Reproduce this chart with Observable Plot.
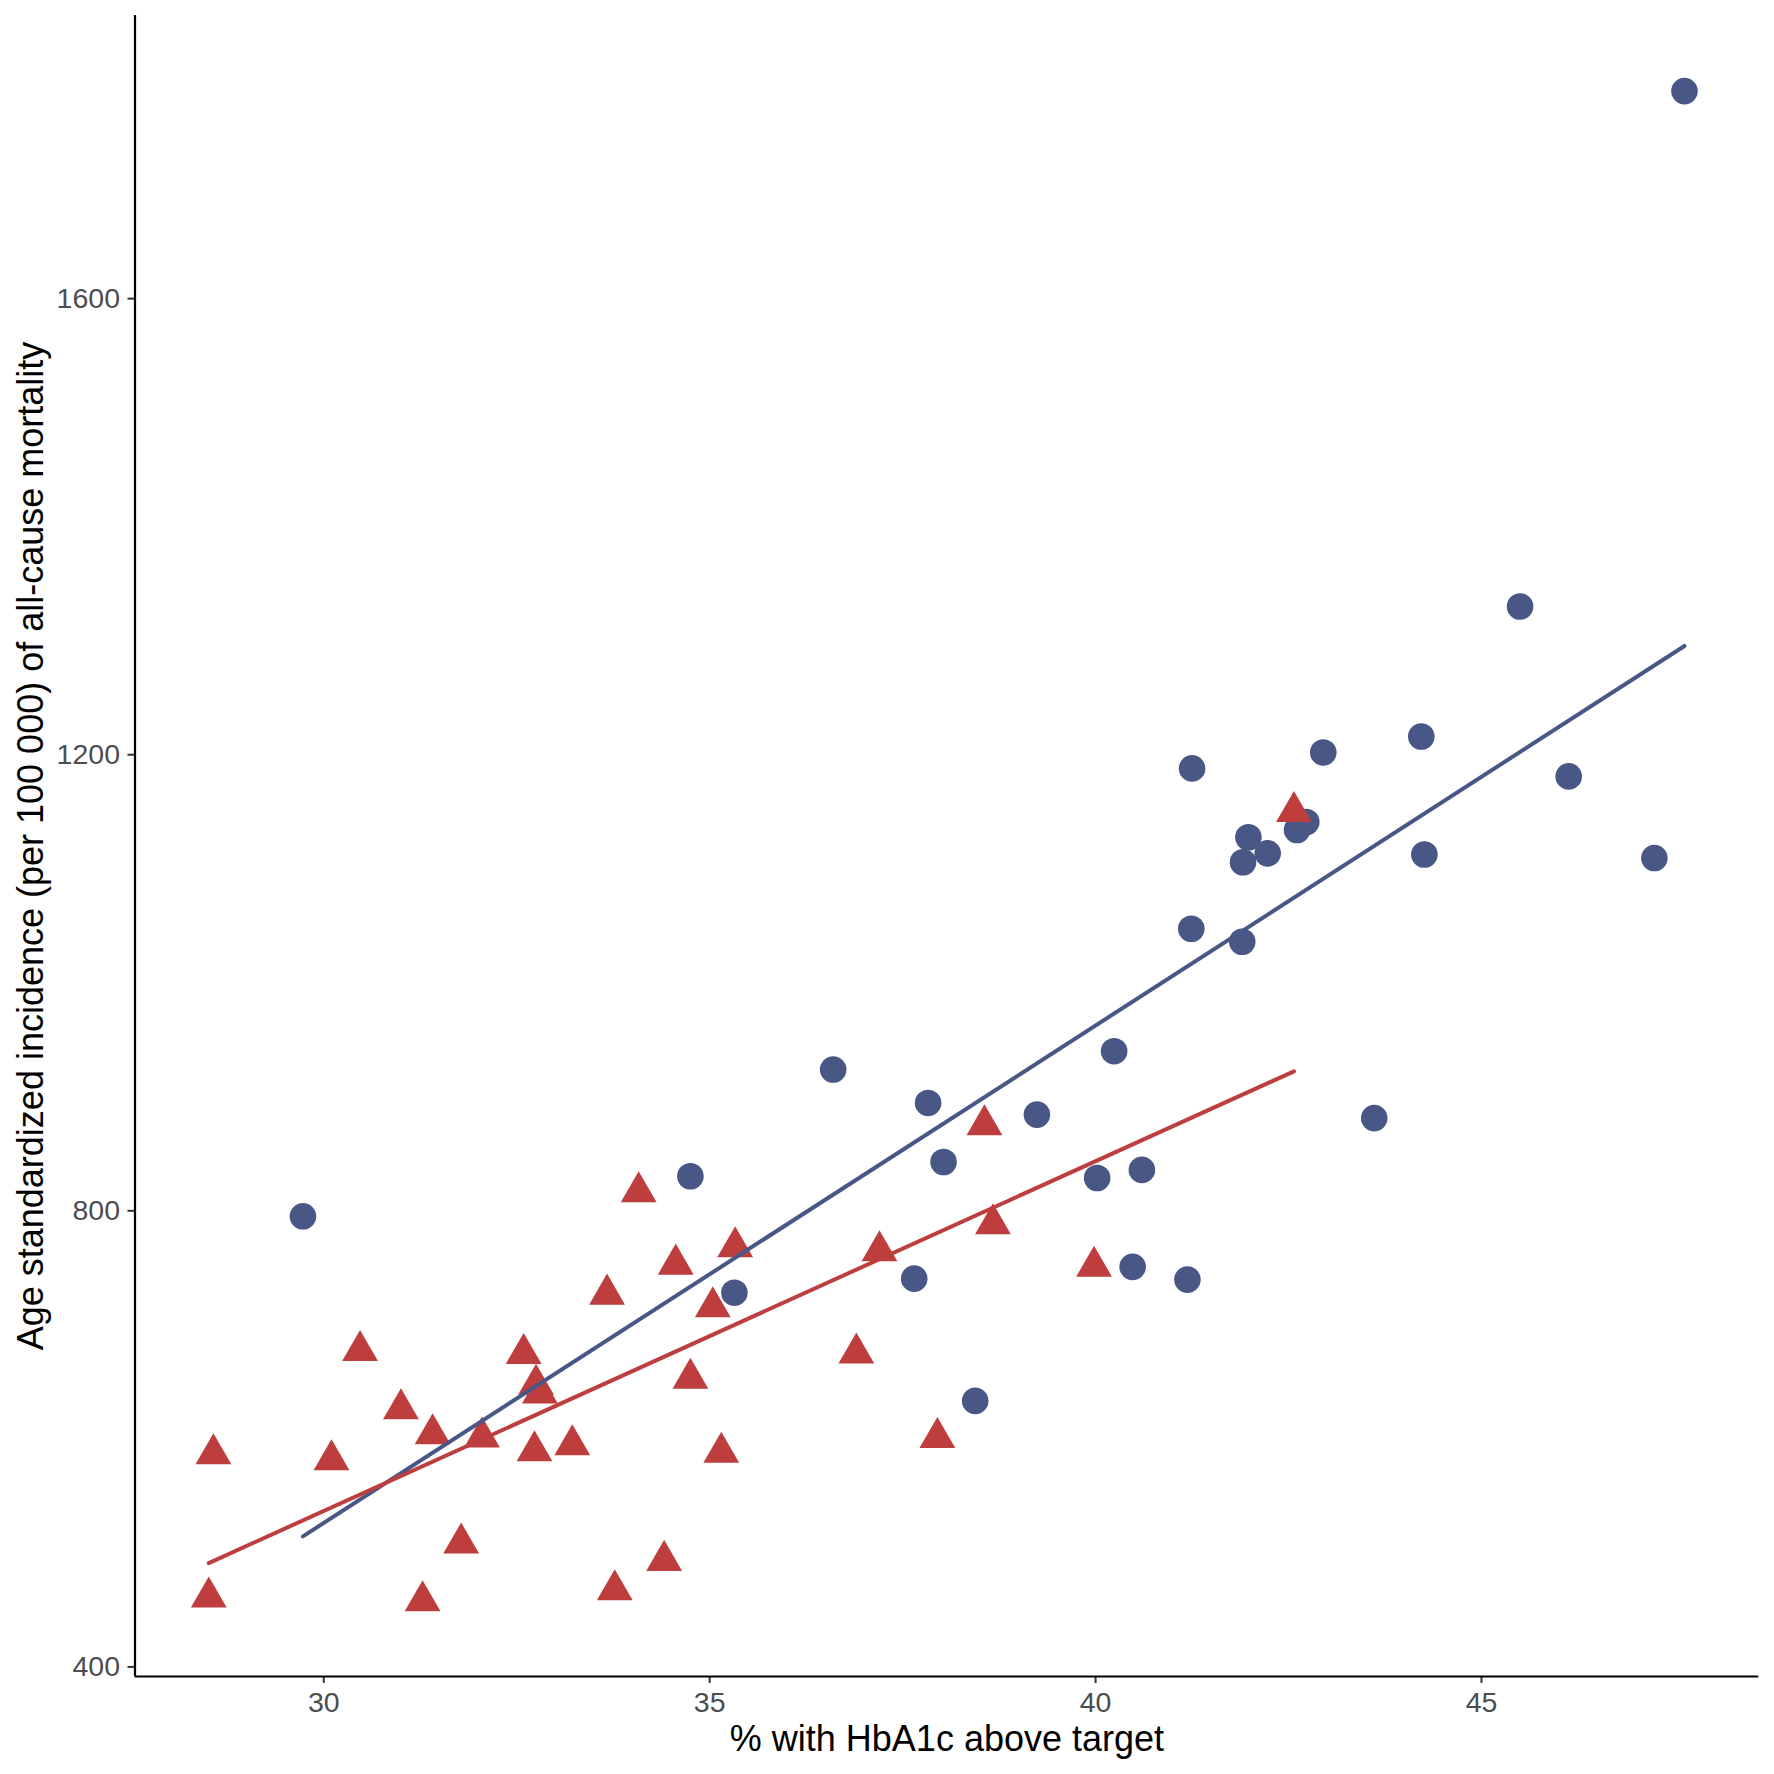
<!DOCTYPE html>
<html>
<head>
<meta charset="utf-8">
<script src="https://cdn.jsdelivr.net/npm/d3@7"></script>
<script src="https://cdn.jsdelivr.net/npm/@observablehq/plot@0.6"></script>
<style>
  html, body { margin: 0; padding: 0; background: #ffffff; }
  #chart { width: 1774px; height: 1774px; }
</style>
</head>
<body>
<div id="chart"></div>
<script>
// ---- data ----
const circleX = [47.63, 45.50, 44.22, 46.13, 42.95, 41.25, 42.73, 42.61, 41.98, 42.23,
                 41.91, 44.26, 47.24, 41.24, 41.90, 40.24, 36.60, 37.83, 39.24, 43.61,
                 38.03, 34.75, 40.02, 40.60, 29.73, 35.32, 37.65, 40.48, 41.19, 38.44];
const circleY = [1782, 1330, 1216, 1181, 1202, 1188, 1141, 1134, 1127.6, 1113.5,
                 1105.7, 1112.5, 1109.4, 1047.4, 1036, 940, 923.9, 894.6, 884.4, 881.3,
                 842.8, 830.3, 828.8, 835.9, 795.2, 728.2, 740.5, 750.8, 739.7, 633.3];

const triangleX = [34.08, 35.33, 34.56, 33.67, 35.04, 30.47, 32.59, 32.75, 32.80, 31.00,
                   31.41, 32.05, 28.57, 30.10, 32.73, 33.22, 34.75, 35.15, 31.78, 34.41,
                   33.77, 31.28, 28.51, 38.56, 37.20, 38.67, 39.98, 36.90, 37.95, 42.57];
const triangleY = [816.5, 768.3, 753.1, 726.8, 715.7, 677.4, 674.8, 647.7, 640, 626.2,
                   604.3, 601.5, 586.8, 581.6, 589.4, 594.7, 653.1, 588.2, 508.5, 493.3,
                   467.6, 457.8, 461.1, 875.3, 764.8, 788.5, 751.3, 675.2, 601.1, 1150];

const xTicks = [30, 35, 40, 45];
const yTicks = [400, 800, 1200, 1600];
const xDomain = [27.554, 48.593];
const yDomain = [391.6, 1848.3];
const xTitle = "% with HbA1c above target";
const yTitle = "Age standardized incidence (per 100 000) of all-cause mortality";

const blue = "#495787";
const red = "#BE3E3E";

const circles = circleX.map((x, i) => ({x, y: circleY[i]}));
const triangles = triangleX.map((x, i) => ({x, y: triangleY[i]}));

const chart = Plot.plot({
  width: 1774,
  height: 1774,
  marginLeft: 134.5,
  marginRight: 15.7,
  marginTop: 15,
  marginBottom: 98,
  x: {domain: xDomain},
  y: {domain: yDomain},
  style: {fontFamily: "'Liberation Sans', Arial, Helvetica, sans-serif", background: "#ffffff", color: "#000"},
  marks: [
    Plot.axisX({ticks: xTicks, tickFormat: d => String(d), tickSize: 7, tickPadding: 8, fontSize: 28.5, stroke: "#333333", fill: "#4D4D4D", strokeWidth: 2, label: null}),
    Plot.axisY({ticks: yTicks, tickFormat: d => String(d), tickSize: 7, tickPadding: 8, fontSize: 28.5, stroke: "#333333", fill: "#4D4D4D", strokeWidth: 2, label: null}),
    Plot.ruleX([xDomain[0]], {stroke: "#000", strokeWidth: 2.2}),
    Plot.ruleY([yDomain[0]], {stroke: "#000", strokeWidth: 2.2}),
    Plot.dot(circles, {x: "x", y: "y", symbol: "circle", r: 13.3, fill: blue, stroke: "none"}),
    Plot.dot(triangles, {x: "x", y: "y", symbol: "triangle", r: 13.3, fill: red, stroke: "none"}),
    Plot.linearRegressionY(circles, {x: "x", y: "y", stroke: blue, strokeWidth: 4, ci: 0}),
    Plot.linearRegressionY(triangles, {x: "x", y: "y", stroke: red, strokeWidth: 4, ci: 0}),
    Plot.text([xTitle], {frameAnchor: "bottom", dy: 74, lineAnchor: "bottom", textAnchor: "middle", fontSize: 36, fill: "#000"}),
    Plot.text([yTitle], {frameAnchor: "left", dx: -92, rotate: -90, lineAnchor: "bottom", textAnchor: "middle", fontSize: 36, fill: "#000"})
  ]
});
document.getElementById("chart").appendChild(chart);
</script>
</body>
</html>
